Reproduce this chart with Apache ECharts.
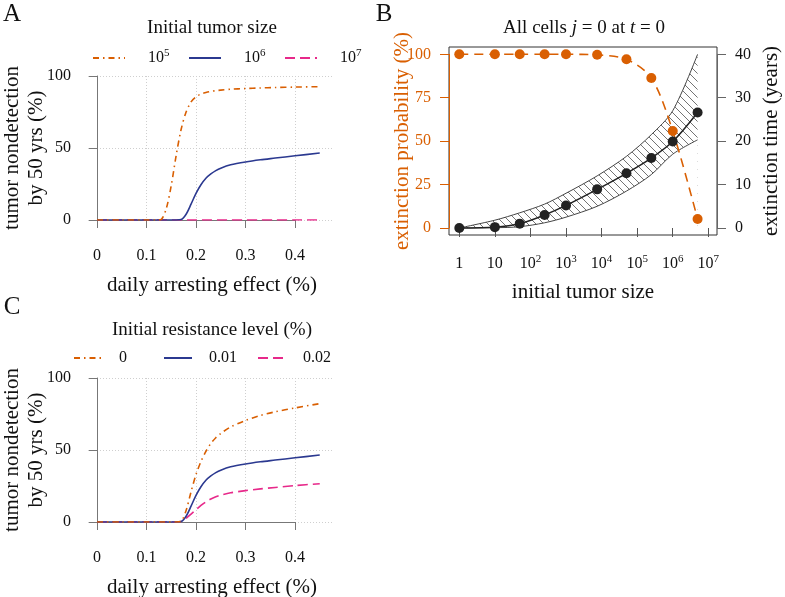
<!DOCTYPE html>
<html><head><meta charset="utf-8">
<script src="https://cdn.jsdelivr.net/npm/echarts@6/dist/echarts.min.js"></script>
<style>html,body{margin:0;padding:0;background:#fff}#c{width:785px;height:597px}</style>
</head><body><div id="c"></div>
<script>
// ---------- Panel A : nondetection vs daily arresting effect, by initial tumor size ----------
const xEffect  = [0, 0.05, 0.1, 0.12, 0.13, 0.14, 0.15, 0.16, 0.17, 0.18, 0.19, 0.2, 0.21, 0.22, 0.23, 0.24, 0.25, 0.27, 0.3, 0.33, 0.36, 0.4, 0.45];
const aSize1e5 = [0, 0, 0, 0, 0.5, 8, 24, 45, 63, 75, 82, 85.5, 87.5, 88.5, 89.3, 89.8, 90.2, 90.8, 91.3, 91.7, 92, 92.3, 92.6];
const aSize1e6 = [0, 0, 0, 0, 0, 0, 0, 0, 0.3, 4, 11, 18.5, 24.5, 29, 32, 34.3, 36, 38.3, 40.3, 41.8, 43, 44.6, 46.5];
const aSize1e7 = [0, 0, 0, 0, 0, 0, 0, 0, 0, 0, 0, 0, 0, 0, 0, 0, 0, 0, 0, 0, 0, 0, 0];
// ---------- Panel C : by initial resistance level ----------
const cRes0    = [0, 0, 0, 0, 0, 0, 0, 0, 0.5, 8, 21, 33, 42, 49, 54.5, 58.5, 61.5, 66, 70.5, 74, 76.5, 79.2, 82.2];
const cRes001  = [0, 0, 0, 0, 0, 0, 0, 0, 0.3, 4, 11, 18.5, 24.5, 29, 32, 34.3, 36, 38.3, 40.3, 41.8, 43, 44.6, 46.5];
const cRes002  = [0, 0, 0, 0, 0, 0, 0, 0, 0.3, 2.5, 5.5, 8.5, 11.5, 14, 16, 17.5, 18.7, 20.3, 21.8, 23, 24, 25.3, 26.6];
// ---------- Panel B : extinction vs initial tumor size ----------
const tumorSizes = [1, 10, 50, 250, 1000, 7500, 50000, 250000, 1000000, 5000000];
const extProb    = [100, 100, 100, 100, 100, 99.7, 97.1, 86.4, 55.8, 5.2];
const extTime    = [0, 0.2, 1.0, 3.0, 5.2, 8.9, 12.6, 16.1, 19.9, 26.6];
const timeLow    = [0, 0.05, 0.3, 1.2, 2.5, 5.0, 8.5, 12.3, 17.0, 20.3];
const timeHigh   = [0, 1.8, 3.5, 5.5, 8.0, 12.0, 16.5, 21.5, 27.0, 40.0];

const legendA = ['10^5', '10^6', '10^7'];
const legendC = ['0', '0.01', '0.02'];

const ORANGE = '#D95F02', BLUE = '#2B3990', PINK = '#E7298A';
const FONT = 'Liberation Serif';
const AX = '#777';

function pairs(xs, ys) { return xs.map((x, i) => [x, ys[i]]); }

function hatch() {
  const s = 8, c = document.createElement('canvas');
  c.width = s; c.height = s;
  const g = c.getContext('2d');
  g.strokeStyle = '#444'; g.lineWidth = 0.75;
  g.beginPath();
  g.moveTo(-1, -1); g.lineTo(s + 1, s + 1);
  g.moveTo(-1, s - 1); g.lineTo(1, s + 1);
  g.moveTo(s - 1, -1); g.lineTo(s + 1, 1);
  g.stroke();
  return c;
}

const supRich = {
  b: { fontSize: 16, fontFamily: FONT, color: '#111', lineHeight: 20 },
  s: { fontSize: 11, fontFamily: FONT, color: '#111', padding: [0, 0, 9, 0], lineHeight: 20 }
};
function supFmt(name) {
  if (name.indexOf('^') > 0) { const p = name.split('^'); return '{b|' + p[0] + '}{s|' + p[1] + '}'; }
  return '{b|' + name + '}';
}

const pxPerUnit = 198 / 0.4;
const dataMinX = -9 / pxPerUnit, dataMaxX = 237 / pxPerUnit;

function hiddenX(grid, min, max) {
  return { gridIndex: grid, type: 'value', min: min, max: max, show: false };
}
function hiddenY(grid) { return { gridIndex: grid, type: 'value', min: 0, max: 100, show: false }; }

function effectAxis(grid) {
  return {
    gridIndex: grid, type: 'value', min: 0, max: 0.4, interval: 0.1, offset: 7,
    axisLine: { show: true, lineStyle: { color: AX, width: 1 } },
    axisTick: { show: true, length: 8, lineStyle: { color: AX } },
    axisLabel: { fontSize: 16, fontFamily: FONT, color: '#111', margin: 21 },
    splitLine: { show: true, lineStyle: { type: [1, 2], color: '#cfcfcf' } }
  };
}
function pctAxis(grid) {
  return {
    gridIndex: grid, type: 'value', min: 0, max: 100, interval: 50,
    axisLine: { show: true, lineStyle: { color: AX, width: 1 } },
    axisTick: { show: true, length: 8, lineStyle: { color: AX } },
    axisLabel: { fontSize: 16, fontFamily: FONT, color: '#111', margin: 17 },
    splitLine: { show: true, lineStyle: { type: [1, 2], color: '#cfcfcf' } }
  };
}
function curve(name, xi, yi, ys, color, type) {
  return {
    name: name, type: 'line', xAxisIndex: xi, yAxisIndex: yi,
    data: pairs(xEffect, ys), showSymbol: false, symbol: 'none', smooth: 0.3,
    lineStyle: { color: color, width: 1.6, type: type }, itemStyle: { color: color },
    z: 3
  };
}
function legendOne(name, left, top, w, pad) {
  return {
    data: [name], left: left, top: top, padding: 0, itemWidth: w, itemHeight: 4,
    selectedMode: false,
    itemStyle: { opacity: 0, color: 'rgba(0,0,0,0)', borderWidth: 0 },
    textStyle: { fontSize: 16, fontFamily: FONT, color: '#111', padding: [0, 0, 0, pad], rich: supRich },
    formatter: supFmt
  };
}

function txt(x, y, text, size, opts) {
  opts = opts || {};
  return {
    type: 'text', x: x, y: y, rotation: opts.rot || 0, z: 10,
    style: {
      text: text, x: 0, y: 0,
      font: (opts.italic ? 'italic ' : '') + size + 'px "' + FONT + '"',
      fill: opts.color || '#111',
      align: opts.align || 'center', textAlign: opts.align || 'center',
      verticalAlign: 'middle', textVerticalAlign: 'middle',
      lineHeight: opts.lh || size * 1.15,
      rich: opts.rich
    }
  };
}

const chart = echarts.init(document.getElementById('c'));
const dashDot = [6, 4, 1.5, 4];
const longDash = [10, 5];

const option = {
  animation: false,
  backgroundColor: '#fff',
  textStyle: { fontFamily: FONT },
  grid: [
    { left: 88, top: 76, width: 246, height: 144 },
    { left: 97, top: 76, width: 198, height: 144 },
    { left: 88, top: 378, width: 246, height: 144 },
    { left: 97, top: 378, width: 198, height: 144 },
    { left: 449, top: 47, width: 268, height: 188, show: true, borderColor: '#333', borderWidth: 1, backgroundColor: 'transparent' },
    { left: 459.3, top: 54.3, width: 249, height: 173.7 }
  ],
  xAxis: [
    hiddenX(0, dataMinX, dataMaxX),
    effectAxis(1),
    hiddenX(2, dataMinX, dataMaxX),
    effectAxis(3),
    hiddenX(4, 0, 1),
    {
      gridIndex: 5, type: 'log', logBase: 10, min: 1, max: 1e7, offset: 7,
      axisLine: { show: false },
      axisTick: { show: true, length: 9, lineStyle: { color: '#555' } },
      axisLabel: {
        margin: 19, fontSize: 16, fontFamily: FONT, color: '#111', lineHeight: 20, rich: supRich,
        formatter: v => { const e = Math.round(Math.log10(v)); return e === 0 ? '{b|1}' : e === 1 ? '{b|10}' : '{b|10}{s|' + e + '}'; }
      },
      splitLine: { show: false }, minorTick: { show: false }
    }
  ],
  yAxis: [
    pctAxis(0),
    hiddenY(1),
    pctAxis(2),
    hiddenY(3),
    hiddenY(4),
    {
      gridIndex: 5, type: 'value', min: 0, max: 100, interval: 25, offset: 10.3, position: 'left',
      axisLine: { show: true, lineStyle: { color: ORANGE, width: 1 } },
      axisTick: { show: true, length: 9, lineStyle: { color: ORANGE } },
      axisLabel: { fontSize: 16, fontFamily: FONT, color: ORANGE, margin: 18 },
      splitLine: { show: false }
    },
    {
      gridIndex: 5, type: 'value', min: 0, max: 40, interval: 10, offset: 8.7, position: 'right',
      axisLine: { show: true, lineStyle: { color: '#666', width: 1 } },
      axisTick: { show: true, length: 9, lineStyle: { color: '#666' } },
      axisLabel: { fontSize: 16, fontFamily: FONT, color: '#111', margin: 18 },
      splitLine: { show: false }
    }
  ],
  legend: [
    legendOne(legendA[0], 92, 48, 32, 18),
    legendOne(legendA[1], 188, 48, 32, 18),
    legendOne(legendA[2], 284, 48, 32, 18),
    legendOne(legendC[0], 73, 350, 28, 12),
    legendOne(legendC[1], 163, 350, 28, 12),
    legendOne(legendC[2], 257, 350, 28, 12)
  ],
  series: [
    curve(legendA[2], 0, 0, aSize1e7, PINK, longDash),
    curve(legendA[1], 0, 0, aSize1e6, BLUE, 'solid'),
    curve(legendA[0], 0, 0, aSize1e5, ORANGE, dashDot),
    curve(legendC[2], 2, 2, cRes002, PINK, longDash),
    curve(legendC[1], 2, 2, cRes001, BLUE, 'solid'),
    curve(legendC[0], 2, 2, cRes0, ORANGE, dashDot),
    // hatched band: upper bound filled with hatch down to 0, lower bound filled white
    {
      type: 'line', xAxisIndex: 5, yAxisIndex: 6, smooth: 0.3,
      data: pairs(tumorSizes, timeHigh), symbol: 'none',
      lineStyle: { color: '#444', width: 1 },
      areaStyle: { color: { image: hatch(), repeat: 'repeat' }, opacity: 1, origin: 'start' },
      z: 1
    },
    {
      type: 'line', xAxisIndex: 5, yAxisIndex: 6, smooth: 0.3,
      data: pairs(tumorSizes, timeLow), symbol: 'none',
      lineStyle: { color: '#444', width: 1 },
      areaStyle: { color: '#ffffff', opacity: 1, origin: 'start' },
      z: 2
    },
    {
      type: 'line', xAxisIndex: 5, yAxisIndex: 5, smooth: 0.3,
      data: pairs(tumorSizes, extProb), symbol: 'circle', symbolSize: 10,
      lineStyle: { color: ORANGE, width: 1.6, type: [9, 6] }, itemStyle: { color: ORANGE },
      clip: false, z: 3
    },
    {
      type: 'line', xAxisIndex: 5, yAxisIndex: 6, smooth: 0.3,
      data: pairs(tumorSizes, extTime), symbol: 'circle', symbolSize: 10,
      lineStyle: { color: '#222', width: 1.5 }, itemStyle: { color: '#222' },
      clip: false, z: 4
    }
  ],
  graphic: [
    txt(12, 14, 'A', 25),
    txt(384, 14, 'B', 25),
    txt(12, 307, 'C', 25),
    txt(212, 28, 'Initial tumor size', 19),
    txt(212, 330, 'Initial resistance level (%)', 19),
    txt(212, 285, 'daily arresting effect (%)', 21),
    txt(212, 587, 'daily arresting effect (%)', 21),
    txt(24, 148, 'tumor nondetection\nby 50 yrs (%)', 21, { rot: Math.PI / 2, lh: 24 }),
    txt(24, 450, 'tumor nondetection\nby 50 yrs (%)', 21, { rot: Math.PI / 2, lh: 24 }),
    txt(584, 28, '{n|All cells }{i|j}{n| = 0 at }{i|t}{n| = 0}', 19, {
      rich: {
        n: { font: '19px "' + FONT + '"', fill: '#111', color: '#111' },
        i: { font: 'italic 19px "' + FONT + '"', fill: '#111', color: '#111' }
      }
    }),
    txt(583, 292, 'initial tumor size', 21),
    txt(402, 141, 'extinction probability (%)', 21, { rot: Math.PI / 2, color: ORANGE }),
    txt(771, 141, 'extinction time (years)', 21, { rot: Math.PI / 2 })
  ]
};
chart.setOption(option);
</script>
</body></html>
